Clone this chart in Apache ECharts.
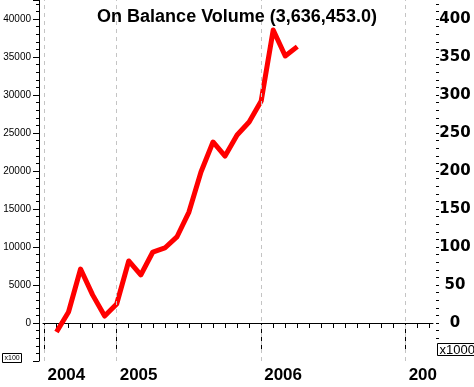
<!DOCTYPE html>
<html>
<head>
<meta charset="utf-8">
<script src="https://cdn.jsdelivr.net/npm/echarts@6/dist/echarts.min.js"></script>
<style>
  html, body { margin: 0; padding: 0; background: #fff; }
  #chart { width: 474px; height: 387px; }
</style>
</head>
<body>
<div id="chart"></div>
<script>
// monthly on balance volume (left scale x100)
const dates = ['2004-08', '2004-09', '2004-10', '2004-11', '2004-12',
  '2005-01', '2005-02', '2005-03', '2005-04', '2005-05', '2005-06',
  '2005-07', '2005-08', '2005-09', '2005-10', '2005-11', '2005-12',
  '2006-01', '2006-02', '2006-03', '2006-04'];
const obv = [-1180, 1450, 7100, 3700, 920,
  2500, 8160, 6320, 9340, 9870, 11320,
  14600, 19870, 23820, 21970, 24740, 26450,
  29210, 38550, 35130, 36364.53];
const yearTicks = ['2004-07', '2005-01', '2006-01', '2007-01'];
const yearLabels = ['2004', '2005', '2006', '200'];

// months since Jan 2004
function monthIdx(s) {
  const p = s.split('-');
  return (parseInt(p[0]) - 2004) * 12 + parseInt(p[1]) - 1;
}

const yearPos = yearTicks.map(monthIdx);
const monthTicks = [];
for (let m = 6; m <= 38; m++) monthTicks.push(m);
const rightTicks = [];
for (let v = -20; v <= 420; v += 10) rightTicks.push(v);
const rightLabels = [0, 50, 100, 150, 200, 250, 300, 350, 400];

const xMin = 5.88, xMax = 38.27;

const chart = echarts.init(document.getElementById('chart'));
chart.setOption({
  animation: false,
  backgroundColor: '#fff',
  title: {
    text: 'On Balance Volume (3,636,453.0)',
    left: 'center',
    top: 3,
    textStyle: { fontFamily: 'Liberation Sans', fontSize: 18, fontWeight: 'bold', color: '#000' }
  },
  grid: { left: 43, right: 41, top: 0, bottom: 26 },
  xAxis: [{
    type: 'value', min: xMin, max: xMax,
    axisLine: { lineStyle: { color: '#000', width: 1 } },
    axisTick: { customValues: monthTicks, length: 5, lineStyle: { color: '#000' } },
    axisLabel: { show: false },
    splitLine: { show: false }
  }, {
    type: 'value', min: xMin, max: xMax, position: 'bottom',
    axisLine: { show: false },
    axisTick: { customValues: yearPos, length: 27, lineStyle: { color: '#000' } },
    axisLabel: {
      customValues: yearPos,
      align: 'left',
      margin: 6,
      padding: [0, 0, 0, 3],
      fontFamily: 'Liberation Sans', fontSize: 17, fontWeight: 'bold', color: '#000',
      formatter: function (v) { return yearLabels[yearPos.indexOf(Math.round(v))]; }
    },
    splitLine: { show: false }
  }],
  yAxis: [{
    type: 'value', position: 'left', offset: 4,
    min: -5000, max: 42500, interval: 5000,
    axisLine: { show: true, lineStyle: { color: '#000' } },
    axisTick: { show: true, length: 6, lineStyle: { color: '#000' } },
    minorTick: { show: true, splitNumber: 5, length: 3, lineStyle: { color: '#000' } },
    axisLabel: {
      margin: 8, fontFamily: 'Liberation Sans', fontSize: 10, color: '#000',
      formatter: function (v) { return (v < 0 || v > 40000) ? '' : String(v); }
    },
    splitLine: { show: false }
  }, {
    type: 'value', position: 'right', offset: 3,
    min: -50, max: 425,
    axisLine: { show: false },
    axisTick: { show: true, customValues: rightTicks, length: 3, lineStyle: { color: '#000' } },
    axisLabel: {
      customValues: rightLabels,
      align: 'center', margin: 19,
      fontFamily: 'DejaVu Sans', fontSize: 15, fontWeight: 'bold', color: '#000'
    },
    splitLine: { show: false }
  }],
  graphic: [{
    type: 'group', left: 2, top: 353,
    children: [
      { type: 'rect', shape: { x: 0, y: 0, width: 19, height: 9 }, style: { fill: '#fff', stroke: '#000', lineWidth: 1 } },
      { type: 'text', x: 2, y: 1, style: { text: 'x100', font: '7px "Liberation Sans"', fill: '#000' } }
    ]
  }, {
    type: 'group', left: 437, top: 343,
    children: [
      { type: 'rect', shape: { x: 0, y: 0, width: 40, height: 12 }, style: { fill: '#fff', stroke: '#000', lineWidth: 1 } },
      { type: 'text', x: 2, y: 0, style: { text: 'x1000', font: '13px "Liberation Sans"', fill: '#000' } }
    ]
  }],
  series: [{
    type: 'line',
    xAxisIndex: 0, yAxisIndex: 0,
    data: dates.map(function (d, i) { return [monthIdx(d), obv[i]]; }),
    showSymbol: false,
    lineStyle: { color: '#ff0000', width: 5, join: 'round' },
    itemStyle: { color: '#ff0000' },
    markLine: {
      silent: true, symbol: 'none', label: { show: false },
      lineStyle: { color: '#c4c4c4', type: [4, 4], width: 1 },
      data: yearPos.map(function (m) { return { xAxis: m }; })
    },
    z: 3
  }]
});
</script>
</body>
</html>
